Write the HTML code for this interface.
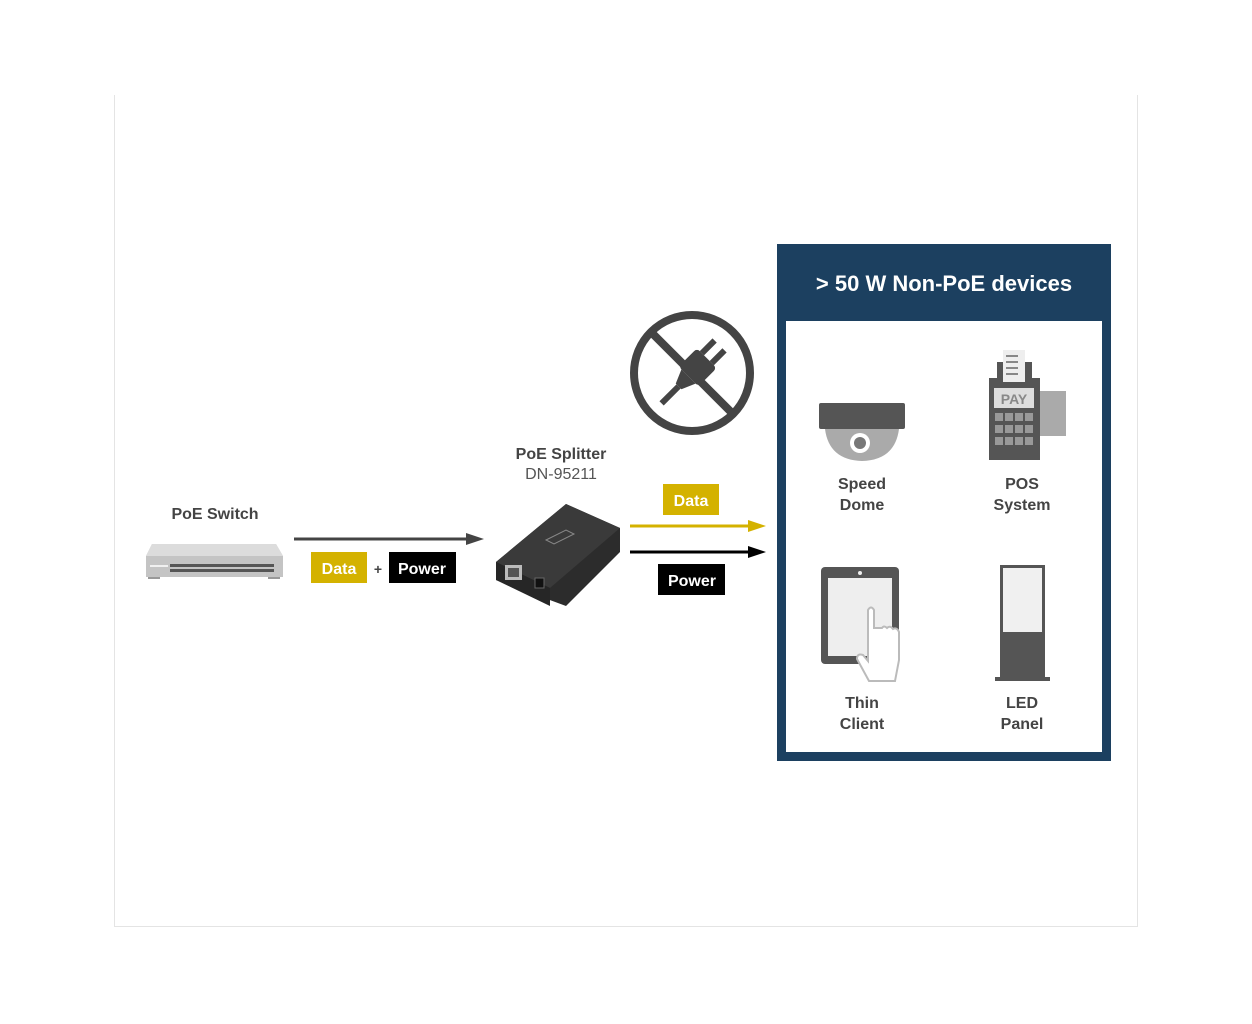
<!DOCTYPE html>
<html><head><meta charset="utf-8"><style>
html,body{margin:0;padding:0;background:#fff;}
svg{display:block;font-family:"Liberation Sans",sans-serif;}
</style></head><body>
<svg width="1252" height="1024" viewBox="0 0 1252 1024" xmlns="http://www.w3.org/2000/svg">
<rect width="1252" height="1024" fill="#fff"/>
<line x1="114.5" y1="95" x2="114.5" y2="926" stroke="#e4e4e4"/>
<line x1="1137.5" y1="95" x2="1137.5" y2="926" stroke="#e4e4e4"/>
<line x1="114" y1="926.5" x2="1138" y2="926.5" stroke="#e4e4e4"/>

<text x="215" y="519" text-anchor="middle" font-size="16" font-weight="bold" fill="#444">PoE Switch</text>
<polygon points="152,544 276,544 283,556 283,577 146,577 146,556" fill="#c9c9c9"/>
<polygon points="152,544 276,544 283,556 146,556" fill="#dcdcdc"/>
<rect x="146" y="556" width="137" height="21" fill="#c4c4c4"/>
<rect x="150" y="565" width="18" height="2" fill="#f0f0f0"/>
<rect x="170" y="564" width="104" height="3" fill="#555"/>
<rect x="170" y="569" width="104" height="3" fill="#555"/>
<rect x="148" y="577" width="12" height="2" fill="#999"/><rect x="268" y="577" width="12" height="2" fill="#999"/>

<line x1="294" y1="539" x2="470" y2="539" stroke="#444" stroke-width="3"/>
<polygon points="466,533 484,539 466,545" fill="#444"/>
<rect x="311" y="552" width="56" height="31" fill="#d4b200"/>
<text x="339" y="574" text-anchor="middle" font-size="16" font-weight="bold" fill="#fff">Data</text>
<text x="378" y="574" text-anchor="middle" font-size="14" font-weight="bold" fill="#444">+</text>
<rect x="389" y="552" width="67" height="31" fill="#000"/>
<text x="422" y="574" text-anchor="middle" font-size="16" font-weight="bold" fill="#fff">Power</text>

<text x="561" y="459" text-anchor="middle" font-size="16" font-weight="bold" fill="#444">PoE Splitter</text>
<text x="561" y="479" text-anchor="middle" font-size="16" fill="#555">DN-95211</text>
<polygon points="496,562 566,504 620,528 620,552 566,606 496,580" fill="#2c2c2c"/>
<polygon points="496,562 566,504 620,528 550,588" fill="#3a3a3a"/>
<polygon points="496,562 550,588 550,606 496,580" fill="#262626"/>
<rect x="505" y="565" width="17" height="15" fill="#bbb"/>
<rect x="508" y="568" width="11" height="9" fill="#555"/>
<rect x="535" y="578" width="9" height="10" fill="#111" stroke="#666"/>
<polygon points="546,540 566,530 574,534 554,544" fill="none" stroke="#888"/>

<circle cx="692" cy="373" r="58" fill="none" stroke="#444" stroke-width="8"/>
<line x1="651" y1="332" x2="733" y2="414" stroke="#444" stroke-width="8"/>
<g transform="rotate(45 692 373)" fill="#444">
<rect x="678" y="352" width="28" height="26" rx="4"/>
<rect x="682" y="334" width="6" height="18"/><rect x="696" y="334" width="6" height="18"/>
<path d="M682,378 L702,378 L696,392 L688,392 Z"/>
<rect x="689" y="392" width="6" height="24"/>
</g>

<rect x="663" y="484" width="56" height="31" fill="#d4b200"/>
<text x="691" y="506" text-anchor="middle" font-size="16" font-weight="bold" fill="#fff">Data</text>
<line x1="630" y1="526" x2="752" y2="526" stroke="#d4b200" stroke-width="3"/>
<polygon points="748,520 766,526 748,532" fill="#d4b200"/>
<line x1="630" y1="552" x2="752" y2="552" stroke="#000" stroke-width="3"/>
<polygon points="748,546 766,552 748,558" fill="#000"/>
<rect x="658" y="564" width="67" height="31" fill="#000"/>
<text x="692" y="586" text-anchor="middle" font-size="16" font-weight="bold" fill="#fff">Power</text>

<rect x="777" y="244" width="334" height="517" fill="#1c4060"/>
<rect x="786" y="321" width="316" height="431" fill="#fff"/>
<text x="944" y="291" text-anchor="middle" font-size="22" font-weight="bold" fill="#fff">&gt; 50 W Non-PoE devices</text>

<rect x="819" y="403" width="86" height="26" rx="2" fill="#555"/>
<path d="M825,429 L899,429 Q895,460 862,461 Q829,460 825,429 Z" fill="#aaa"/>
<circle cx="860" cy="443" r="10" fill="#fff"/><circle cx="860" cy="443" r="6" fill="#777"/>
<text x="862" y="489" text-anchor="middle" font-size="16" font-weight="bold" fill="#444">Speed</text>
<text x="862" y="510" text-anchor="middle" font-size="16" font-weight="bold" fill="#444">Dome</text>

<rect x="1037" y="391" width="29" height="45" fill="#aaa"/>
<rect x="989" y="378" width="51" height="82" fill="#555"/>
<rect x="997" y="362" width="35" height="18" fill="#555"/>
<rect x="1003" y="350" width="22" height="32" fill="#eee"/>
<g fill="#888"><rect x="1006" y="355" width="12" height="2"/><rect x="1006" y="361" width="12" height="2"/><rect x="1006" y="367" width="12" height="2"/><rect x="1006" y="373" width="12" height="2"/></g>
<rect x="994" y="388" width="40" height="20" fill="#ddd"/>
<text x="1014" y="404" text-anchor="middle" font-size="14" font-weight="bold" fill="#888">PAY</text>
<g fill="#999">
<rect x="995" y="413" width="8" height="8"/><rect x="1005" y="413" width="8" height="8"/><rect x="1015" y="413" width="8" height="8"/><rect x="1025" y="413" width="8" height="8"/>
<rect x="995" y="425" width="8" height="8"/><rect x="1005" y="425" width="8" height="8"/><rect x="1015" y="425" width="8" height="8"/><rect x="1025" y="425" width="8" height="8"/>
<rect x="995" y="437" width="8" height="8"/><rect x="1005" y="437" width="8" height="8"/><rect x="1015" y="437" width="8" height="8"/><rect x="1025" y="437" width="8" height="8"/>
</g>
<text x="1022" y="489" text-anchor="middle" font-size="16" font-weight="bold" fill="#444">POS</text>
<text x="1022" y="510" text-anchor="middle" font-size="16" font-weight="bold" fill="#444">System</text>

<rect x="821" y="567" width="78" height="97" rx="4" fill="#555"/>
<rect x="828" y="578" width="64" height="78" fill="#eee"/>
<circle cx="860" cy="573" r="2" fill="#eee"/>
<path d="M868,610 q3,-5 6,0 v18 h8 q2,-3 5,0 q3,-3 6,1 q4,-2 6,3 v28 l-4,21 h-26 l-12,-22 q0,-6 6,-4 l5,6 z" fill="#fff" stroke="#bbb" stroke-width="2"/>
<text x="862" y="708" text-anchor="middle" font-size="16" font-weight="bold" fill="#444">Thin</text>
<text x="862" y="729" text-anchor="middle" font-size="16" font-weight="bold" fill="#444">Client</text>

<rect x="1000" y="565" width="45" height="112" fill="#555"/>
<rect x="1003" y="568" width="39" height="64" fill="#f0f0f0"/>
<rect x="995" y="677" width="55" height="4" fill="#555"/>
<text x="1022" y="708" text-anchor="middle" font-size="16" font-weight="bold" fill="#444">LED</text>
<text x="1022" y="729" text-anchor="middle" font-size="16" font-weight="bold" fill="#444">Panel</text>
</svg>
</body></html>
